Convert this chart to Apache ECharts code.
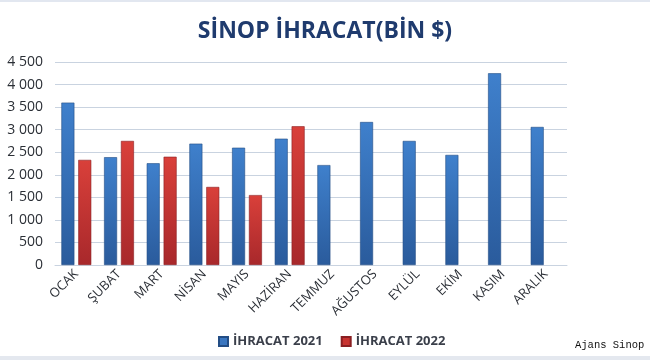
<!DOCTYPE html>
<html><head><meta charset="utf-8">
<script src="https://cdn.jsdelivr.net/npm/echarts@6/dist/echarts.min.js"></script>
<style>html,body{margin:0;padding:0;background:#fff}#c{width:650px;height:360px}</style>
</head><body><div id="c"></div>
<script>
const categories = ['OCAK','ŞUBAT','MART','NİSAN','MAYIS','HAZİRAN','TEMMUZ','AĞUSTOS','EYLÜL','EKİM','KASIM','ARALIK'];
const ihracat2021 = [3600,2390,2255,2690,2600,2800,2215,3170,2750,2440,4250,3060];
const ihracat2022 = [2330,2750,2400,1730,1550,3075,null,null,null,null,null,null];
const yTicks = [0,500,1000,1500,2000,2500,3000,3500,4000,4500];

const chart = echarts.init(document.getElementById('c'));
const blue = new echarts.graphic.LinearGradient(0,0,0,1,[{offset:0,color:'#3f80cc'},{offset:1,color:'#2a5b9c'}]);
const red = new echarts.graphic.LinearGradient(0,0,0,1,[{offset:0,color:'#d9403a'},{offset:1,color:'#a8282b'}]);
chart.setOption({
  backgroundColor:'#fff',
  animation:false,
  title:{text:'SİNOP İHRACAT(BİN $)',left:'center',top:15,
    textStyle:{fontFamily:'Open Sans',fontWeight:'bold',fontSize:23,color:'#1f3b6e'}},
  grid:{left:55,right:83,top:62,bottom:95},
  legend:{bottom:7,left:213,itemWidth:9,itemHeight:9,itemGap:18,
    textStyle:{fontFamily:'Open Sans',fontWeight:'bold',fontSize:13,color:'#3a3f4a'},
    data:[{name:'İHRACAT 2021',icon:'rect',itemStyle:{color:'#3a76c0'}},{name:'İHRACAT 2022',icon:'rect',itemStyle:{color:'#c83330'}}]},
  xAxis:{type:'category',data:categories,
    axisLine:{show:true,lineStyle:{color:'#c9d3e0'}},axisTick:{show:false},
    axisLabel:{rotate:45,fontSize:13,color:'#2b2f36',fontFamily:'Open Sans',margin:7,interval:0}},
  yAxis:{type:'value',min:0,max:4500,interval:500,
    axisLine:{show:false},axisTick:{show:false},
    splitLine:{lineStyle:{color:'#c9d3e0'}},
    axisLabel:{fontSize:14,color:'#2b2f36',fontFamily:'Open Sans',margin:12,
      formatter:v=>yTicks.includes(v)?String(v).replace(/\B(?=(\d{3})+(?!\d))/g,' '):''}},
  series:[
    {name:'İHRACAT 2021',type:'bar',data:ihracat2021,barWidth:13,barGap:'30%',
      itemStyle:{color:blue,borderColor:'#234d85',borderWidth:0.6}},
    {name:'İHRACAT 2022',type:'bar',data:ihracat2022,barWidth:13,
      itemStyle:{color:red,borderColor:'#8a1f22',borderWidth:0.6}}
  ],
  graphic:[
    {type:'rect',left:0,top:0,shape:{width:650,height:2},style:{fill:'#e2e7f0'}},
    {type:'rect',left:0,top:356,shape:{width:650,height:4},style:{fill:'#e4e8ef'}},
    {type:'text',left:575,top:340,style:{text:'Ajans Sinop',font:'10.5px "Liberation Mono"',fill:'#111'}}
  ]
});
</script></body></html>
